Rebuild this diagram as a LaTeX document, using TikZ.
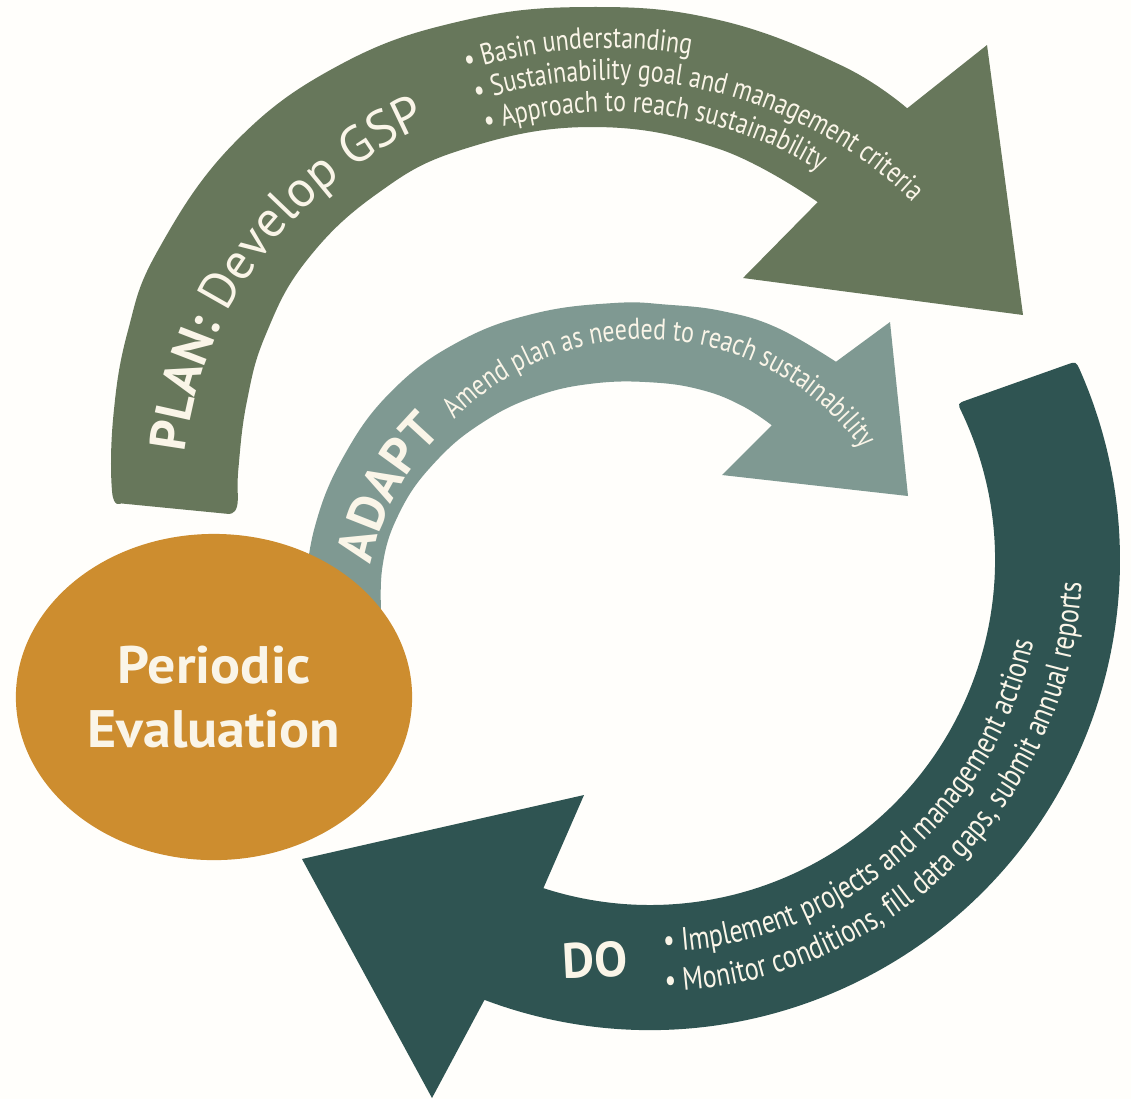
\documentclass[tikz,border=0pt]{standalone}
\usepackage{fontspec}
\newfontfamily\thinfont{PT Sans}[FakeStretch=0.8]
\newfontfamily\headfont{PT Sans}
\newfontfamily\bubblefont{PT Sans}[FakeStretch=1.06]
\usetikzlibrary{decorations.text,shapes.geometric}
\definecolor{paper}{RGB}{255,254,251}
\definecolor{plangreen}{RGB}{103,119,91}
\definecolor{adaptgrey}{RGB}{127,153,146}
\definecolor{doteal}{RGB}{47,84,82}
\definecolor{evalochre}{RGB}{205,141,47}
\definecolor{cream}{RGB}{250,245,232}
\newcommand\smalltxt{\thinfont\fontsize{8.5}{10}\selectfont}
\newcommand\dotxt{\thinfont\fontsize{9.2}{11}\selectfont}
\newcommand\bigtxt{\headfont\bfseries\fontsize{14.5}{17}\selectfont}
\newcommand\lighttxt{\headfont\fontsize{14.5}{17}\selectfont}

\begin{document}
\begin{tikzpicture}
	[x=0.01cm, y=0.01cm,
	plan/.style={fill=plangreen},
	adapt/.style={fill=adaptgrey},
	act/.style={fill=doteal},
	curved/.style={decorate, decoration={text along path, text color=cream, text={#1}}},
	bubble/.style={ellipse, fill=evalochre, inner sep=0pt, text=cream, align=center,
		font=\bubblefont\bfseries\fontsize{15}{18.2}\selectfont}]
	\fill[paper] (0,0) rectangle (1131,-1099);
	\useasboundingbox (0,0) rectangle (1131,-1099);
	\begin{scope}[shift={(590,-500)}]
		\fill[plan] plot[smooth, tension=0.7] coordinates {(-469,-3.4) (179:478) (170:484) (160:492) (150:499) (135:504) (120:502) (105:496) (90:493) (75:497) (60:502) (51:504)}
			-- (397,455) -- (433,185) -- (153,222)
			-- plot[smooth, tension=0.7] coordinates {(52.6:375) (70:374) (90:373) (110:373) (125:373) (140:371) (153:364) (164:357) (175:353) (181:353) (-361.7,-13.9)} -- cycle;
	\end{scope}
	\begin{scope}[shift={(614,-610)}]
		\fill[adapt] plot[smooth, tension=0.7] coordinates {(180:311) (165:310.5) (150:311) (135:312) (120:310) (105:307) (90:307) (80:310) (70:318) (60:326) (48.2:333)}
			-- (276,288) -- (294,114) -- (108,135)
			-- plot[smooth, tension=0.7] coordinates {(49.5:243) (58:241) (68:237) (80:231) (95:227.5) (110:227.5) (125:229) (140:232) (155:235.5) (170:235.5) (187:233)} -- cycle;
	\end{scope}
	\fill[act] ([shift={(650,-560)}]25.3:345) arc[start angle=25.3, end angle=-108, radius=345]
		-- (584,-795) -- (302,-859) -- (432,-1098) -- (486,-997)
		-- ([shift={(650,-560)}]-110.6:470) arc[start angle=-110.6, end angle=23.8, radius=470]
		.. controls (1076,-361.4) .. (1066.6,-364.7) -- (966.8,-400.1)
		.. controls (957.4,-403.4) .. cycle;
	\node[bubble, minimum width=3.96cm, minimum height=3.26cm] (eval) at (214,-697) {Periodic\\Evaluation};
	\node[text=cream, font=\headfont\bfseries\fontsize{14}{17}\selectfont, rotate=3] (do) at (595,-960) {DO};
	\path[curved={|\bigtxt|PLAN: |\lighttxt|Develop GSP}] ([shift={(590,-500)}]173.3:408) arc[start angle=173.3, end angle=90, radius=408];
	\path[curved={|\smalltxt|• Basin understanding}] ([shift={(611,-514)}]108:466) arc[start angle=108, end angle=30, radius=466];
	\path[curved={|\smalltxt|• Sustainability goal and management criteria}] ([shift={(611,-514)}]108:434) arc[start angle=108, end angle=20, radius=434];
	\path[curved={|\smalltxt|• Approach to reach sustainability}] ([shift={(611,-514)}]108:402) arc[start angle=108, end angle=20, radius=402];
	\path[curved={|\bigtxt|ADAPT}] ([shift={(614,-610)}]169.5:247) arc[start angle=169.5, end angle=120, radius=247];
	\path[curved={|\smalltxt|Amend plan as needed to reach sustainability}] ([shift={(646,-605)}]135.9:266) arc[start angle=135.9, end angle=10, radius=266];
	\path[curved={|\dotxt|• Implement projects and management actions}] ([shift={(650,-560)}]-88:392) arc[start angle=-88, end angle=30, radius=392];
	\path[curved={|\dotxt|• Monitor conditions, fill data gaps, submit annual reports}] ([shift={(650,-560)}]-88:432) arc[start angle=-88, end angle=30, radius=432];
\end{tikzpicture}
\end{document}
